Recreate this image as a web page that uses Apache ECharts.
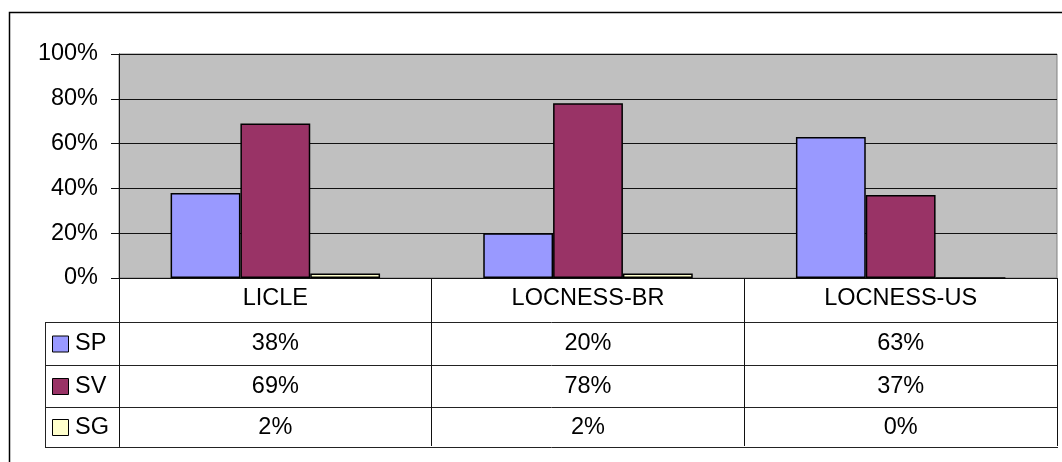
<!DOCTYPE html>
<html>
<head>
<meta charset="utf-8">
<script src="https://cdn.jsdelivr.net/npm/echarts@6/dist/echarts.min.js"></script>
<style>
  html, body { margin: 0; padding: 0; background: #fff; }
  #chart { width: 1062px; height: 462px; }
</style>
</head>
<body>
<div id="chart"></div>
<script>
const categories = ["LICLE", "LOCNESS-BR", "LOCNESS-US"];
const seriesNames = ["SP", "SV", "SG"];
const spValues = [38, 20, 63];
const svValues = [69, 78, 37];
const sgValues = [2, 2, 0];
const colors = ["#9999FF", "#993366", "#FFFFCC"];

const font = "'Liberation Sans', Arial, sans-serif";
const fs = 23.5;
const grid = { left: 119, top: 54, width: 938, height: 224 };
const rowH = [44, 43, 42, 40]; // category row, SP, SV, SG
const tableLeft = 45;

const chart = echarts.init(document.getElementById("chart"));
const allValues = [spValues, svValues, sgValues];

const option = {
  animation: false,
  textStyle: { fontFamily: font },
  grid: {
    left: grid.left,
    top: grid.top,
    width: grid.width,
    height: grid.height,
    show: true,
    backgroundColor: "#C0C0C0",
    borderColor: "#808080",
    borderWidth: 1,
  },
  xAxis: {
    type: "category",
    data: categories,
    axisLine: { lineStyle: { color: "#111", width: 1 } },
    axisTick: { show: true, length: rowH[0] + rowH[1] + rowH[2] + rowH[3] - 1, lineStyle: { color: "#111" } },
    axisLabel: { color: "#000", fontSize: fs, margin: 9, fontFamily: font },
  },
  yAxis: {
    type: "value",
    min: 0,
    max: 100,
    interval: 20,
    axisLine: { show: true, lineStyle: { color: "#111" } },
    axisTick: { show: true, length: 8, lineStyle: { color: "#111" } },
    axisLabel: { formatter: "{value}%", color: "#000", fontSize: fs, margin: 21, fontFamily: font },
    splitLine: { lineStyle: { color: "#111", width: 1 } },
  },
  series: seriesNames.map((name, i) => ({
    name: name,
    type: "bar",
    data: allValues[i],
    barGap: "0%",
    barCategoryGap: "33%",
    itemStyle: { color: colors[i], borderColor: "#000", borderWidth: 1.5 },
  })),
};
chart.setOption(option);

// data table under the plot, laid out on the category axis
function buildTable() {
  const els = [];
  const bottom = grid.top + grid.height;
  const right = grid.left + grid.width;
  let y = bottom + rowH[0];
  const lines = [y];
  for (let r = 1; r < rowH.length; r++) {
    y += rowH[r];
    lines.push(y);
  }
  const tableBottom = lines[lines.length - 1];
  const stroke = { stroke: "#222", lineWidth: 1 };
  lines.forEach((ly) => {
    els.push({ type: "line", shape: { x1: tableLeft, y1: ly + 0.5, x2: right + 1, y2: ly + 0.5 }, style: stroke });
  });
  els.push({ type: "line", shape: { x1: tableLeft + 0.5, y1: lines[0], x2: tableLeft + 0.5, y2: tableBottom + 1 }, style: stroke });
  els.push({ type: "line", shape: { x1: grid.left + 0.5, y1: bottom, x2: grid.left + 0.5, y2: tableBottom + 1 }, style: stroke });

  seriesNames.forEach((name, r) => {
    const cy = (lines[r] + lines[r + 1]) / 2 + 0.5;
    els.push({
      type: "rect",
      shape: { x: 52.5, y: cy - 8, width: 16, height: 16 },
      style: { fill: colors[r], stroke: "#000", lineWidth: 1 },
    });
    els.push({
      type: "text",
      style: { text: name, x: 75, y: cy, fontSize: fs, fontFamily: font, fill: "#000", verticalAlign: "middle", align: "left" },
    });
    categories.forEach((cat, c) => {
      const cx = chart.convertToPixel({ xAxisIndex: 0 }, cat);
      els.push({
        type: "text",
        style: { text: allValues[r][c] + "%", x: cx, y: cy, fontSize: fs, fontFamily: font, fill: "#000", align: "center", verticalAlign: "middle" },
      });
    });
  });

  els.push({
    type: "rect",
    shape: { x: 9.5, y: 12.5, width: 1200, height: 600 },
    style: { fill: "none", stroke: "#000", lineWidth: 1.5 },
  });
  return els;
}

chart.setOption({ graphic: buildTable() });
</script>
</body>
</html>
